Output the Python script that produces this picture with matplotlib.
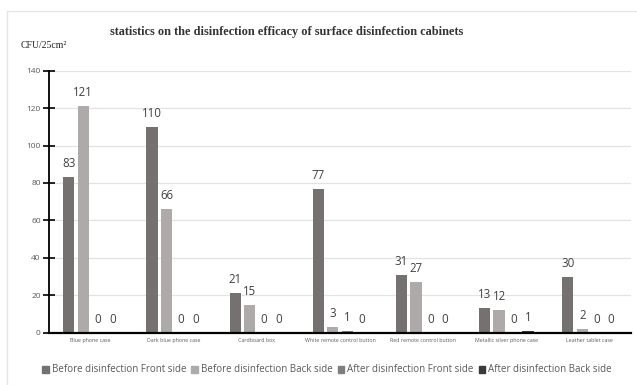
import matplotlib
matplotlib.use("Agg")
import matplotlib.pyplot as plt
import numpy as np
from matplotlib.lines import Line2D

categories = ["Blue phone case", "Dark blue phone case", "Cardboard box",
              "White remote control button", "Red remote control button",
              "Metallic silver phone case", "Leather tablet case"]
series_names = ["Before disinfection Front side", "Before disinfection Back side",
                "After disinfection Front side", "After disinfection Back side"]
before_front = [83, 110, 21, 77, 31, 13, 30]
before_back = [121, 66, 15, 3, 27, 12, 2]
after_front = [0, 0, 0, 1, 0, 0, 0]
after_back = [0, 0, 0, 0, 0, 1, 0]
yticks = [0, 20, 40, 60, 80, 100, 120, 140]

colors = ["#767171", "#AEAAAA", "#7F7F7F", "#3A3838"]
series = [before_front, before_back, after_front, after_back]

fig = plt.figure(figsize=(6.37, 3.85), dpi=100)
ax = fig.add_axes([49/637, 1-332.7/385, (631-49)/637, (332.7-70.7)/385])

x = np.arange(len(categories))
step = 0.174
width = 0.135
for i, (vals, c, name) in enumerate(zip(series, colors, series_names)):
    pos = x + (i - 1.5) * step
    ax.bar(pos, vals, width, color=c, label=name, zorder=3)
    for p, v in zip(pos, vals):
        ax.annotate(str(v), (p, v), xytext=(0, 5), textcoords="offset points",
                    ha="center", va="bottom", fontsize=8.3, color="#404040",
                    family="Open Sans")

ax.set_xlim(-0.5, len(categories) - 0.5)
ax.set_ylim(0, 140)
ax.set_yticks(yticks)
ax.set_xticks(x)
ax.set_xticklabels(categories, fontsize=3.8, color="#595959", family="Open Sans")
ax.tick_params(axis="x", length=0, pad=4)
ax.tick_params(axis="y", direction="inout", length=8, width=1.2, labelsize=6,
               labelcolor="#595959", pad=2)
for lbl in ax.get_yticklabels():
    lbl.set_family("Open Sans")
ax.grid(axis="y", color="#E3E3E3", lw=0.9, zorder=0)
for s in ["top", "right"]:
    ax.spines[s].set_visible(False)
ax.spines["left"].set_linewidth(1.3)
ax.spines["bottom"].set_linewidth(1.6)
ax.spines["left"].set_zorder(5)
ax.spines["bottom"].set_zorder(5)

fig.text(287/637, 1-32/385, "statistics on the disinfection efficacy of surface disinfection cabinets",
         ha="center", va="center", fontsize=8.8, fontweight="bold",
         family="Liberation Serif", color="#333333")
fig.text(21/637, 1-46/385, "CFU/25cm²", ha="left", va="center", fontsize=7,
         family="Liberation Serif", color="#222222")

handles = [plt.Rectangle((0, 0), 1, 1, color=c) for c in colors]
fig.legend(handles, series_names, loc="center", bbox_to_anchor=(327/637, 1-370/385),
           ncol=4, frameon=False, handlelength=0.7, handleheight=0.7,
           handletextpad=0.3, columnspacing=0.5, prop={"family": "Open Sans", "size": 7},
           labelcolor="#595959")

# outer frame
fig.add_artist(Line2D([7/637, 7/637], [0, 1-11/385], transform=fig.transFigure,
                      color="#E6E6E6", lw=1))
fig.add_artist(Line2D([7/637, 1], [1-11/385, 1-11/385], transform=fig.transFigure,
                      color="#E6E6E6", lw=1))

fig.savefig("out.png", dpi=100)
